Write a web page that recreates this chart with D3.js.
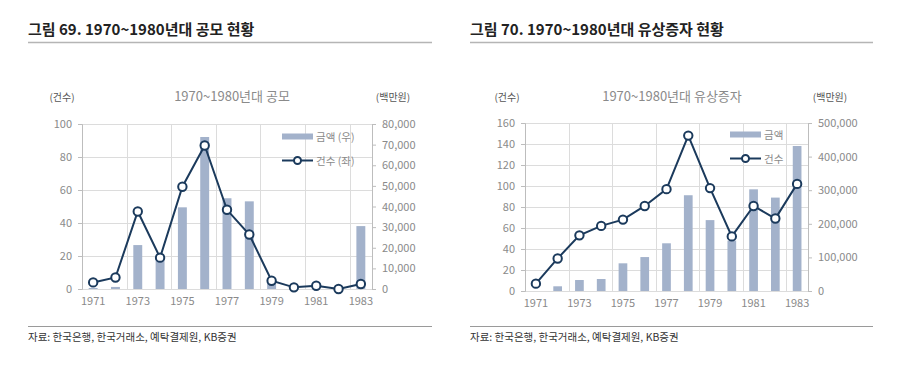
<!DOCTYPE html>
<html>
<head>
<meta charset="utf-8">
<script src="https://cdn.jsdelivr.net/npm/d3@7/dist/d3.min.js"></script>
<style>
body{margin:0;background:#fff;font-family:"Noto Sans CJK KR","Noto Sans",sans-serif;}
</style>
</head>
<body>
<div id="container"></div>
<script>
// years shared by both charts
var years = ["1971","1972","1973","1974","1975","1976","1977","1978","1979","1980","1981","1982","1983"]
var yearLabels = ["1971","1973","1975","1977","1979","1981","1983"]

// 공모 (IPO)
var ipoCount = [4,7,47,19,62,87,48,33,5,1,2,0,3]
var ipoAmount = [500,1000,21300,16000,39600,73700,44000,42500,3000,0,0,0,30500]
var ipoLeftTicks = [0,20,40,60,80,100]
var ipoRightTicks = [0,10000,20000,30000,40000,50000,60000,70000,80000]

// 유상증자 (rights offering)
var roCount = [7,31,53,62,68,81,97,148,98,52,81,69,102]
var roAmount = [0,14000,32700,35700,82400,101000,142000,285000,211000,150000,302600,278000,431500]
var roLeftTicks = [0,20,40,60,80,100,120,140,160]
var roRightTicks = [0,100000,200000,300000,400000,500000]

var barColor = "#a3b2cb"
var lineColor = "#1b3a5c"
var gridColor = "#dcdcdc"
var textGray = "#8a8a8a"

var svg = d3.select("#container").append("svg").attr("width",900).attr("height",373)

function drawPanel(opt){
    var g = svg.append("g")

    // figure title + rules
    g.append("text").attr("x",opt.x0).attr("y",35)
        .attr("font-size",15).attr("font-weight","bold").attr("fill","#222")
        .text(opt.title)
    g.append("line").attr("x1",opt.x0).attr("x2",opt.x1).attr("y1",42.5).attr("y2",42.5)
        .attr("stroke","#b5b5b5").attr("stroke-width",1.5)
    g.append("line").attr("x1",opt.x0).attr("x2",opt.x1).attr("y1",326.5).attr("y2",326.5)
        .attr("stroke","#9a9a9a").attr("stroke-width",1)
    g.append("text").attr("x",opt.x0).attr("y",341)
        .attr("font-size",10.5).attr("fill","#333")
        .text("자료: 한국은행, 한국거래소, 예탁결제원, KB증권")

    var xScale = d3.scaleBand().domain(years).range([opt.left,opt.right])
    var yL = d3.scaleLinear().domain([0,d3.max(opt.leftTicks)]).range([opt.bottom,opt.top])
    var yR = d3.scaleLinear().domain([0,d3.max(opt.rightTicks)]).range([opt.bottom,opt.top])

    // horizontal grid
    g.selectAll(".hgrid").data(opt.leftTicks).enter().append("line")
        .attr("x1",opt.left).attr("x2",opt.right)
        .attr("y1",function(d){return Math.round(yL(d))+0.5})
        .attr("y2",function(d){return Math.round(yL(d))+0.5})
        .attr("stroke",gridColor).attr("stroke-width",1)
    // vertical grid every two years
    var vIdx = [2,4,6,8,10,12]
    g.selectAll(".vgrid").data(vIdx).enter().append("line")
        .attr("x1",function(d){return Math.round(xScale(years[d]))+0.5})
        .attr("x2",function(d){return Math.round(xScale(years[d]))+0.5})
        .attr("y1",opt.top).attr("y2",opt.bottom)
        .attr("stroke",gridColor).attr("stroke-width",1)

    // bars
    var bw = xScale.bandwidth()*0.4
    g.selectAll(".bar").data(opt.amount).enter().append("rect")
        .attr("x",function(d,i){return xScale(years[i])+xScale.bandwidth()/2-bw/2})
        .attr("y",function(d){return yR(d)})
        .attr("width",bw)
        .attr("height",function(d){return opt.bottom-yR(d)})
        .attr("fill",barColor)

    // left axis
    var axL = g.append("g").attr("transform","translate("+opt.left+",0)")
        .call(d3.axisLeft(yL).tickValues(opt.leftTicks).tickSize(4).tickPadding(6))
    // right axis
    var axR = g.append("g").attr("transform","translate("+opt.right+",0)")
        .call(d3.axisRight(yR).tickValues(opt.rightTicks).tickSize(4).tickPadding(6)
            .tickFormat(d3.format(",")))
    // bottom axis
    var axB = g.append("g").attr("transform","translate(0,"+opt.bottom+")")
        .call(d3.axisBottom(xScale).tickValues(yearLabels).tickSize(0).tickPadding(8))
    ;[axL,axR,axB].forEach(function(a){
        a.selectAll("path").attr("stroke","#bdbdbd")
        a.selectAll("line").attr("stroke","#bdbdbd")
        a.selectAll("text").attr("fill",textGray).attr("font-size",11)
            .attr("font-family","'Noto Sans CJK KR','Noto Sans',sans-serif")
    })
    axB.select("path").remove()

    // line
    var line = d3.line()
        .x(function(d,i){return xScale(years[i])+xScale.bandwidth()/2})
        .y(function(d){return yL(d)})
    g.append("path").attr("d",line(opt.count))
        .attr("fill","none").attr("stroke",lineColor).attr("stroke-width",2)
    g.selectAll(".pt").data(opt.count).enter().append("circle")
        .attr("cx",function(d,i){return xScale(years[i])+xScale.bandwidth()/2})
        .attr("cy",function(d){return yL(d)})
        .attr("r",4.2)
        .attr("fill","#fff").attr("stroke",lineColor).attr("stroke-width",2)

    // headers
    g.append("text").attr("x",opt.unitLx).attr("y",101).attr("text-anchor","middle")
        .attr("font-size",10).attr("fill","#555").text("(건수)")
    g.append("text").attr("x",opt.unitRx).attr("y",101).attr("text-anchor","middle")
        .attr("font-size",10).attr("fill","#555").text("(백만원)")
    g.append("text").attr("x",opt.subX).attr("y",101).attr("text-anchor","middle")
        .attr("font-size",13).attr("fill",textGray).text(opt.subtitle)

    // legend
    g.append("rect").attr("x",opt.legX).attr("y",opt.legY-3).attr("width",31).attr("height",6)
        .attr("fill",barColor)
    g.append("text").attr("x",opt.legX+34).attr("y",opt.legY+4)
        .attr("font-size",10.5).attr("fill",textGray).text(opt.legBar)
    g.append("line").attr("x1",opt.legX).attr("x2",opt.legX+31)
        .attr("y1",opt.legY+24).attr("y2",opt.legY+24)
        .attr("stroke",lineColor).attr("stroke-width",2)
    g.append("circle").attr("cx",opt.legX+15.5).attr("cy",opt.legY+24).attr("r",3.5)
        .attr("fill","#fff").attr("stroke",lineColor).attr("stroke-width",2)
    g.append("text").attr("x",opt.legX+34).attr("y",opt.legY+28)
        .attr("font-size",10.5).attr("fill",textGray).text(opt.legLine)
}

drawPanel({
    x0:28, x1:432, title:"그림 69. 1970~1980년대 공모 현황",
    subtitle:"1970~1980년대 공모", subX:232, unitLx:62, unitRx:393,
    left:82, right:372, top:124, bottom:289,
    leftTicks:ipoLeftTicks, rightTicks:ipoRightTicks,
    count:ipoCount, amount:ipoAmount,
    legX:282, legY:136.5, legBar:"금액 (우)", legLine:"건수 (좌)"
})

drawPanel({
    x0:470, x1:873, title:"그림 70. 1970~1980년대 유상증자 현황",
    subtitle:"1970~1980년대 유상증자", subX:672, unitLx:507, unitRx:830,
    left:525, right:808, top:123, bottom:291,
    leftTicks:roLeftTicks, rightTicks:roRightTicks,
    count:roCount, amount:roAmount,
    legX:730, legY:134.5, legBar:"금액", legLine:"건수"
})
</script>
</body>
</html>
